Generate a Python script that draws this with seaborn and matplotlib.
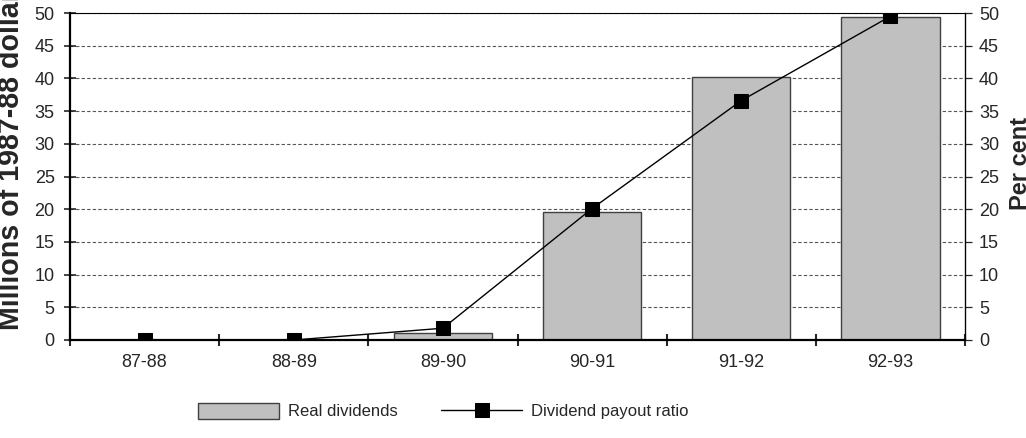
import matplotlib
matplotlib.use("Agg")
import matplotlib.pyplot as plt
import seaborn as sns
import pandas as pd

years = ["87-88", "88-89", "89-90", "90-91", "91-92", "92-93"]
real_dividends = [0, 0, 1.0, 19.6, 40.2, 49.4]
payout_ratio = [0, 0, 1.8, 20.1, 36.6, 49.5]

sns.set_style("white")
plt.rcParams['font.family'] = ['Liberation Sans', 'DejaVu Sans']

df = pd.DataFrame({"year": years, "dividends": real_dividends, "payout": payout_ratio})

fig = plt.figure(figsize=(10.26, 4.38), dpi=100)
ax = fig.add_axes([70 / 1026, 1 - 340 / 438, 895 / 1026, 327 / 438])

# bars: real dividends (left axis)
sns.barplot(data=df, x="year", y="dividends", ax=ax, color="#c0c0c0",
            saturation=1, width=0.66, edgecolor="#404040", linewidth=1)
ax.set_ylim(0, 50)
ax.set_yticks(range(0, 51, 5))
ax.set_xlabel("")
ax.set_ylabel("")
ax.set_axisbelow(True)
ax.yaxis.grid(True, linestyle=(0, (3, 2)), color="#555555", linewidth=0.8)
ax.xaxis.grid(False)

# line: payout ratio (right axis)
ax2 = ax.twinx()
sns.pointplot(data=df, x="year", y="payout", ax=ax2, color="black", markers="s",
              markersize=10, linewidth=1)
ax2.set_ylim(0, 50)
ax2.set_yticks(range(0, 51, 5))
ax2.set_ylabel("")
ax.set_xlim(-0.5, 5.5)

for a in (ax, ax2):
    for s in a.spines.values():
        s.set_color("black")
ax.spines["left"].set_linewidth(1.6)
ax.spines["bottom"].set_linewidth(1.6)
ax.spines["top"].set_linewidth(0.8)
ax2.spines["right"].set_linewidth(0.9)
ax2.spines["left"].set_visible(False)
ax2.spines["bottom"].set_visible(False)
ax2.spines["top"].set_visible(False)

ax.tick_params(axis="y", direction="inout", length=8, width=1.2, labelsize=13, pad=7, left=True)
ax.tick_params(axis="x", labelsize=13, pad=10)
ax.set_xticks([i - 0.5 for i in range(7)], minor=True)
ax.tick_params(axis="x", which="major", length=0)
ax.tick_params(axis="x", which="minor", direction="inout", length=9, width=1.5, bottom=True)
ax2.tick_params(axis="y", direction="out", length=5, width=0.9, labelsize=13, pad=5, right=True)

fig.text(25 / 1026, 1 - 330 / 438, "Millions of 1987-88 dollars", rotation=90,
         ha="right", va="bottom", fontsize=20.6, fontweight="bold")
fig.text(1009 / 1026, 1 - 210 / 438, "Per cent", rotation=90,
         ha="left", va="bottom", fontsize=17, fontweight="bold")

fig.legend(handles=[ax.containers[0], ax2.lines[0]],
           labels=["Real dividends", "Dividend payout ratio"],
           loc="center", bbox_to_anchor=(443 / 1026, 1 - 411 / 438), ncol=2,
           frameon=False, fontsize=12, handlelength=4.9, handleheight=1.15,
           columnspacing=2.6, handletextpad=0.5)

fig.savefig("out.png", dpi=100)
